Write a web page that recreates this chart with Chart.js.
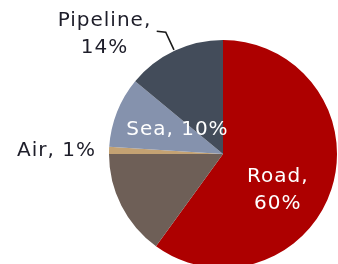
<!DOCTYPE html>
<html>
<head>
<meta charset="utf-8">
<script src="https://cdn.jsdelivr.net/npm/chart.js@4"></script>
<style>
  html, body { margin: 0; padding: 0; background: #fff; overflow: hidden; }
  #wrap { width: 338px; height: 268px; }
</style>
</head>
<body>
<div id="wrap"><canvas id="myChart" width="338" height="268"></canvas></div>
<script>
// data
const modes = ['Road', 'Rail', 'Air', 'Sea', 'Pipeline'];
const shares = [60, 15, 1, 10, 14];
const colours = ['#ad0000', '#6e5f57', '#c4a273', '#8592ad', '#434c5a'];

// label text per slice (empty = no label), split into lines
const labelLines = [['Road,', '60%'], [], ['Air, 1%'], ['Sea, 10%'], ['Pipeline,', '14%']];

// where each label sits, as offset from pie centre in radius units
const labelSpots = [
  { dx: 0.48, dy: 0.32, color: '#ffffff' },
  null,
  { dx: -1.46, dy: -0.03, color: '#1e1e2a' },
  { dx: -0.40, dy: -0.21, color: '#ffffff' },
  { dx: -1.04, dy: -1.05, color: '#1e1e2a', leader: true },
];

const sliceLabels = {
  id: 'sliceLabels',
  afterDatasetsDraw(chart) {
    const c = chart.ctx;
    const arcs = chart.getDatasetMeta(0).data;
    c.save();
    c.font = '20px "DejaVu Sans", Verdana, sans-serif';
    c.letterSpacing = '1px';
    c.textAlign = 'center';
    c.textBaseline = 'middle';
    arcs.forEach((arc, i) => {
      const spot = labelSpots[i];
      if (!spot) return;
      const r = arc.outerRadius;
      const x = arc.x + spot.dx * r;
      const y = arc.y + spot.dy * r;
      const lines = labelLines[i];
      const lh = 27;
      c.fillStyle = spot.color;
      lines.forEach((t, k) => {
        c.fillText(t, x, y + (k - (lines.length - 1) / 2) * lh);
      });
      if (spot.leader) {
        // leader line from slice edge out to the label
        const mid = (arc.startAngle + arc.endAngle) / 2;
        const ex = arc.x + Math.cos(mid) * r * 1.18;
        const ey = arc.y + Math.sin(mid) * r * 1.18;
        c.strokeStyle = '#1a1a1a';
        c.lineWidth = 1.6;
        c.beginPath();
        c.moveTo(arc.x + Math.cos(mid) * r * 1.01, arc.y + Math.sin(mid) * r * 1.01);
        c.lineTo(ex, ey);
        c.lineTo(ex - 9, ey - 1);
        c.stroke();
      }
    });
    c.restore();
  }
};

new Chart(document.getElementById('myChart'), {
  type: 'pie',
  data: {
    labels: modes,
    datasets: [{
      data: shares,
      backgroundColor: colours,
      borderWidth: 0,
    }],
  },
  options: {
    responsive: false,
    animation: false,
    layout: { padding: { left: 109, right: 1, top: 40, bottom: 0 } },
    plugins: {
      legend: { display: false },
      tooltip: { enabled: false },
    },
  },
  plugins: [sliceLabels],
});
</script>
</body>
</html>
